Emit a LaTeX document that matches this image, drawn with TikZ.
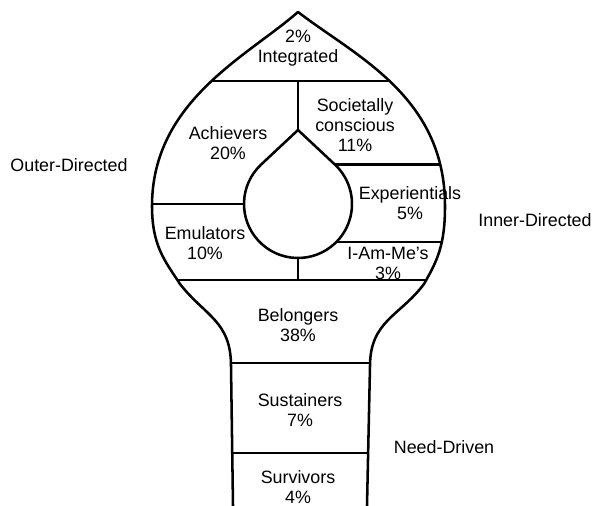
\documentclass[tikz,border=0pt]{standalone}
\usepackage{fontspec}
\setmainfont{Liberation Sans}
\usetikzlibrary{calc}

\newcommand{\bulbpath}{(233,0) -- (231,140)
    .. controls (231,185) and (205,190) .. (180,222)
    .. controls (165,245) and (152,260) .. (152,300)
    .. controls (152,405) and (248,450) .. (298,494)
    .. controls (355,450) and (445,410) .. (445,300)
    .. controls (445,260) and (437,245) .. (424,222)
    .. controls (400,190) and (370,185) .. (370,140) -- (367,0)}

\begin{document}
\begin{tikzpicture}[x=0.75pt,y=0.75pt,line join=round,
    seg/.style={align=center,font=\fontsize{13.4}{15}\selectfont},
    edge/.style={line width=1.9pt}]
  \useasboundingbox (0,0) rectangle (592,506);
  \coordinate (C) at (298,302);
  \coordinate (tip) at (298,376);

  \draw[edge] \bulbpath;
  \begin{scope}
    \clip \bulbpath -- cycle;
    \draw[edge] (100,425) -- (500,425);
    \draw[edge] (100,302) -- ($(C)+(180:54)$);
    \draw[edge] ($(C)+(47:54)$) -- +(200,0);
    \draw[edge] ($(C)+(-45:54)$) -- +(200,0);
    \draw[edge] (100,226) -- (500,226);
    \draw[edge] (100,143) -- (500,143);
    \draw[edge] (100,53) -- (500,53);
  \end{scope}
  \draw[edge] (298,425) -- (tip);
  \draw[edge] ($(C)+(270:54)$) -- (298,226);
  \draw[edge] (tip) -- ($(C)+(133:54)$) arc[start angle=133,end angle=407,radius=54] -- cycle;

  \node[seg] (integ) at (298,458) {2\%\\Integrated};
  \node[seg] (socio) at (355,381) {Societally\\conscious\\11\%};
  \node[seg] (achie) at (228,363) {Achievers\\20\%};
  \node[seg] (exper) at (410,303) {Experientials\\5\%};
  \node[seg] (emula) at (205,263) {Emulators\\10\%};
  \node[seg] (iamme) at (388,243) {I-Am-Me's\\3\%};
  \node[seg] (belon) at (298,181) {Belongers\\38\%};
  \node[seg] (susta) at (300,96) {Sustainers\\7\%};
  \node[seg] (survi) at (298,19) {Survivors\\4\%};

  \node[seg] (outer) at (69,341) {Outer-Directed};
  \node[seg] (inner) at (535,286) {Inner-Directed};
  \node[seg] (needd) at (444,59) {Need-Driven};
\end{tikzpicture}
\end{document}
